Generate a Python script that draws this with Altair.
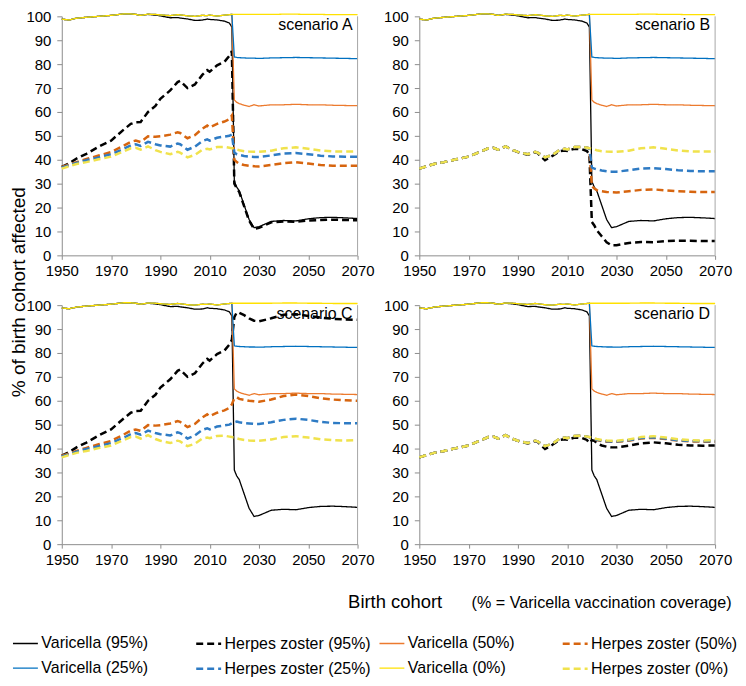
import altair as alt
import pandas as pd

FONT = "Liberation Sans"

YEARS_PRE = [1950, 1953, 1956, 1960, 1965, 1970, 1975, 1978, 1980, 1982, 1985, 1988,
             1990, 1994, 1997, 1998, 2001, 2004, 2007, 2009, 2010, 2013, 2016, 2018, 2019]
YEARS_POST = [2020, 2021, 2022, 2024, 2026, 2028, 2030, 2035, 2040, 2045, 2050, 2055,
              2060, 2065, 2070]
X_TICKS = [1950, 1970, 1990, 2010, 2030, 2050, 2070]
Y_TICKS = [0, 10, 20, 30, 40, 50, 60, 70, 80, 90, 100]

# Varicella (solid) - same in every scenario
V0_PRE = [98.8, 98.5, 99.2, 99.6, 100.0, 100.4, 101.0, 101.0, 100.8, 100.4, 100.9, 100.8,
          100.6, 100.3, 100.7, 100.6, 100.2, 100.0, 100.4, 100.3, 100.5, 100.1, 100.5, 100.7, 100.8]
V95_PRE = [98.8, 98.5, 99.2, 99.6, 100.0, 100.4, 101.0, 101.0, 100.8, 100.4, 100.8, 100.5,
           100.2, 99.4, 99.5, 99.3, 98.9, 98.3, 98.4, 98.9, 98.7, 98.5, 98.0, 97.2, 95.5]
V0_POST = [100.8, 100.8, 100.8, 100.8, 100.8, 100.8, 100.8, 100.8, 100.9, 100.9, 100.8, 100.8,
           100.7, 100.7, 100.7]
V95_POST = [31.0, 28.5, 27.0, 21.0, 15.0, 11.6, 12.0, 14.2, 14.6, 14.4, 15.3, 15.8, 15.9, 15.7, 15.4]
V50_POST = [65.0, 64.0, 63.5, 62.8, 62.3, 63.0, 62.5, 63.0, 63.0, 63.2, 63.0, 63.0, 62.8, 62.7, 62.6]
V25_POST = [83.0, 82.8, 82.7, 82.6, 82.5, 82.5, 82.4, 82.6, 82.7, 82.8, 82.7, 82.6, 82.5, 82.4, 82.3]

# Herpes zoster (dashed)
HZ0_PRE = [36.3, 37.3, 38.2, 39.0, 40.2, 41.3, 43.5, 44.8, 45.0, 44.2, 45.6, 44.0,
           43.3, 42.3, 43.3, 43.0, 41.0, 42.0, 44.2, 44.6, 44.3, 45.3, 45.4, 45.0, 44.8]
HZ0_POST = [44.6, 44.3, 44.0, 43.6, 43.4, 43.3, 43.3, 43.8, 44.8, 45.2, 44.6, 43.9, 43.5, 43.4, 43.5]

HZ95_AC_PRE = [37.0, 38.5, 40.5, 42.5, 45.5, 48.0, 52.5, 55.0, 55.7, 55.8, 60.0, 62.5,
               65.5, 69.0, 72.5, 73.0, 70.0, 71.5, 75.5, 77.5, 76.8, 79.5, 81.0, 83.5, 85.5]
HZ50_AC_PRE = [37.0, 38.0, 39.0, 40.3, 41.8, 43.2, 45.8, 47.5, 48.0, 47.4, 49.8, 49.6,
               49.8, 50.5, 51.5, 51.2, 49.0, 50.3, 53.0, 54.3, 53.5, 55.0, 56.0, 57.0, 58.5]
HZ25_AC_PRE = [36.7, 37.7, 38.7, 39.8, 41.0, 42.3, 44.5, 46.0, 46.5, 45.8, 47.5, 46.5,
               46.0, 45.5, 46.8, 46.5, 44.2, 45.5, 47.8, 48.5, 48.0, 49.2, 49.7, 50.0, 50.6]
HZ95_BD_PRE = [36.3, 37.3, 38.2, 39.0, 40.2, 41.3, 43.5, 44.8, 45.0, 44.2, 45.6, 44.0,
               43.2, 42.1, 43.1, 42.8, 39.8, 41.6, 43.6, 43.9, 43.7, 44.6, 44.4, 43.6, 42.3]

HZ95_A_POST = [30.0, 28.0, 26.5, 20.5, 14.5, 11.0, 11.5, 13.8, 14.2, 14.0, 14.6, 14.8, 14.9, 14.8, 14.7]
HZ50_A_POST = [40.0, 39.0, 38.3, 37.8, 37.5, 37.3, 37.2, 37.8, 38.6, 39.0, 38.4, 37.8, 37.5, 37.5, 37.5]
HZ25_A_POST = [43.0, 42.3, 42.0, 41.6, 41.3, 41.2, 41.2, 41.8, 42.6, 42.8, 42.3, 41.7, 41.4, 41.3, 41.3]
HZ95_B_POST = [14.0, 12.5, 10.5, 8.0, 5.5, 4.2, 4.2, 5.2, 5.6, 5.5, 6.0, 6.1, 6.1, 6.0, 6.0]
HZ50_B_POST = [29.0, 28.0, 27.3, 26.8, 26.5, 26.4, 26.3, 26.8, 27.4, 27.6, 27.2, 26.8, 26.6, 26.5, 26.5]
HZ25_B_POST = [36.8, 36.3, 36.0, 35.5, 35.2, 35.0, 35.0, 35.6, 36.3, 36.5, 36.1, 35.6, 35.3, 35.2, 35.2]
HZ95_C_POST = [95.0, 97.0, 96.8, 95.8, 94.5, 93.5, 93.2, 94.5, 96.0, 96.2, 95.5, 94.8, 94.3, 94.0, 93.9]
HZ50_C_POST = [61.0, 61.5, 60.8, 60.4, 60.0, 59.8, 59.6, 60.5, 62.0, 62.6, 62.0, 61.0, 60.5, 60.2, 60.0]
HZ25_C_POST = [51.0, 51.3, 51.0, 50.7, 50.5, 50.3, 50.3, 51.0, 52.0, 52.5, 52.0, 51.2, 50.7, 50.6, 50.6]
HZ95_D_POST = [43.5, 43.2, 42.3, 41.3, 40.8, 40.5, 40.5, 41.2, 42.2, 42.6, 42.2, 41.6, 41.3, 41.2, 41.3]
HZ50_D_POST = [44.2, 44.0, 43.6, 43.1, 42.9, 42.8, 42.8, 43.3, 44.2, 44.5, 44.0, 43.3, 43.0, 42.9, 42.9]
HZ25_D_POST = [44.3, 44.1, 43.7, 43.3, 43.1, 43.0, 43.0, 43.5, 44.4, 44.7, 44.2, 43.5, 43.2, 43.1, 43.1]

SERIES = ["Varicella (95%)", "Herpes zoster (95%)", "Varicella (50%)", "Herpes zoster (50%)",
          "Varicella (25%)", "Herpes zoster (25%)", "Varicella (0%)", "Herpes zoster (0%)"]
COLORS = ["#000000", "#000000", "#EC7A2E", "#D7650F", "#0070C0", "#2E7BC4", "#FFE100", "#F0E24C"]
DASHES = [[1, 0], [7, 4], [1, 0], [7, 4], [1, 0], [7, 4], [1, 0], [7, 4]]
WIDTHS = [1.3, 2.5, 1.3, 2.5, 1.3, 2.5, 1.3, 2.5]
SCENARIOS = ["A", "B", "C", "D"]

SCEN_DATA = {
    "A": [(V95_PRE, V95_POST), (HZ95_AC_PRE, HZ95_A_POST), (V0_PRE, V50_POST), (HZ50_AC_PRE, HZ50_A_POST),
          (V0_PRE, V25_POST), (HZ25_AC_PRE, HZ25_A_POST), (V0_PRE, V0_POST), (HZ0_PRE, HZ0_POST)],
    "B": [(V95_PRE, V95_POST), (HZ95_BD_PRE, HZ95_B_POST), (V0_PRE, V50_POST), (HZ0_PRE, HZ50_B_POST),
          (V0_PRE, V25_POST), (HZ0_PRE, HZ25_B_POST), (V0_PRE, V0_POST), (HZ0_PRE, HZ0_POST)],
    "C": [(V95_PRE, V95_POST), (HZ95_AC_PRE, HZ95_C_POST), (V0_PRE, V50_POST), (HZ50_AC_PRE, HZ50_C_POST),
          (V0_PRE, V25_POST), (HZ25_AC_PRE, HZ25_C_POST), (V0_PRE, V0_POST), (HZ0_PRE, HZ0_POST)],
    "D": [(V95_PRE, V95_POST), (HZ95_BD_PRE, HZ95_D_POST), (V0_PRE, V50_POST), (HZ0_PRE, HZ50_D_POST),
          (V0_PRE, V25_POST), (HZ0_PRE, HZ25_D_POST), (V0_PRE, V0_POST), (HZ0_PRE, HZ0_POST)],
}

rows = []
for scen in SCENARIOS:
    for i, (pre, post) in enumerate(SCEN_DATA[scen]):
        for yr, val in zip(YEARS_PRE + YEARS_POST, pre + post):
            rows.append({"scenario": scen, "series": SERIES[i], "k": i, "year": yr, "value": val})
df = pd.DataFrame(rows)

W, H = 297, 240

legend = alt.Legend(
    orient="none", legendX=-50.5, legendY=616, columns=4, direction="horizontal", title=None,
    symbolType="stroke", symbolSize=625, labelFontSize=16, labelFont=FONT,
    labelColor="#000000", columnPadding=3, rowPadding=3, gridAlign="all",
    labelOffset=2, labelLimit=300,
)


def x_enc():
    return alt.X("year:Q", scale=alt.Scale(domain=[1950, 2070], nice=False, zero=False),
                 axis=alt.Axis(values=X_TICKS, format="d", title=None, labelFlush=False,
                               labelOverlap=False, tickSize=4, labelPadding=4))


def panel(scen):
    base = alt.Chart(df).transform_filter(alt.datum.scenario == scen)
    lines = base.mark_line(clip=False).encode(
        x=x_enc(),
        y=alt.Y("value:Q", scale=alt.Scale(domain=[0, 100], nice=False),
                axis=alt.Axis(values=Y_TICKS, title=None, tickSize=5, labelPadding=6)),
        color=alt.Color("series:N", scale=alt.Scale(domain=SERIES, range=COLORS), legend=legend),
        strokeDash=alt.StrokeDash("series:N", scale=alt.Scale(domain=SERIES, range=DASHES), legend=legend),
        strokeWidth=alt.StrokeWidth("series:N", scale=alt.Scale(type="ordinal", domain=SERIES, range=WIDTHS),
                                    legend=legend),
        detail="k:O",
    )
    border = alt.Chart(pd.DataFrame({"year": [2070]})).mark_rule(color="#a6a6a6", strokeWidth=1).encode(
        x=x_enc(), y=alt.value(0), y2=alt.value(H)
    )
    label = alt.Chart(pd.DataFrame({"t": [f"scenario {scen}"]})).mark_text(
        align="right", baseline="middle", fontSize=16, font=FONT, color="#000000"
    ).encode(x=alt.value(W - 5), y=alt.value(8.5), text="t:N")
    layers = [lines, border, label]
    if scen == "A":
        layers.append(alt.Chart(pd.DataFrame({"t": ["% of birth cohort affected"]})).mark_text(
            angle=270, align="center", baseline="middle", fontSize=19, font=FONT, color="#000000"
        ).encode(x=alt.value(-43), y=alt.value(277), text="t:N"))
    if scen == "C":
        layers.append(alt.Chart(pd.DataFrame({"t": ["Birth cohort"]})).mark_text(
            align="left", baseline="alphabetic", fontSize=18.5, font=FONT, color="#000000"
        ).encode(x=alt.value(287.5), y=alt.value(304), text="t:N"))
        layers.append(alt.Chart(pd.DataFrame({"t": ["(% = Varicella vaccination coverage)"]})).mark_text(
            align="left", baseline="alphabetic", fontSize=16.2, font=FONT, color="#000000"
        ).encode(x=alt.value(411.5), y=alt.value(304), text="t:N"))
    return alt.layer(*layers).properties(width=W, height=H)


chart = alt.concat(
    *[panel(s) for s in SCENARIOS], columns=2, spacing={"row": 50, "column": 62}, bounds="flush",
    padding={"left": 2, "top": 0, "right": 0, "bottom": 0}
).resolve_scale(color="shared", strokeDash="shared", strokeWidth="shared").configure_view(
    stroke=None
).configure_axis(
    grid=False, domainColor="#8c8c8c", tickColor="#8c8c8c", labelFont=FONT, labelFontSize=15,
    labelColor="#000000"
)

chart.save("out.html", embed_options={"renderer": "svg", "actions": False})
